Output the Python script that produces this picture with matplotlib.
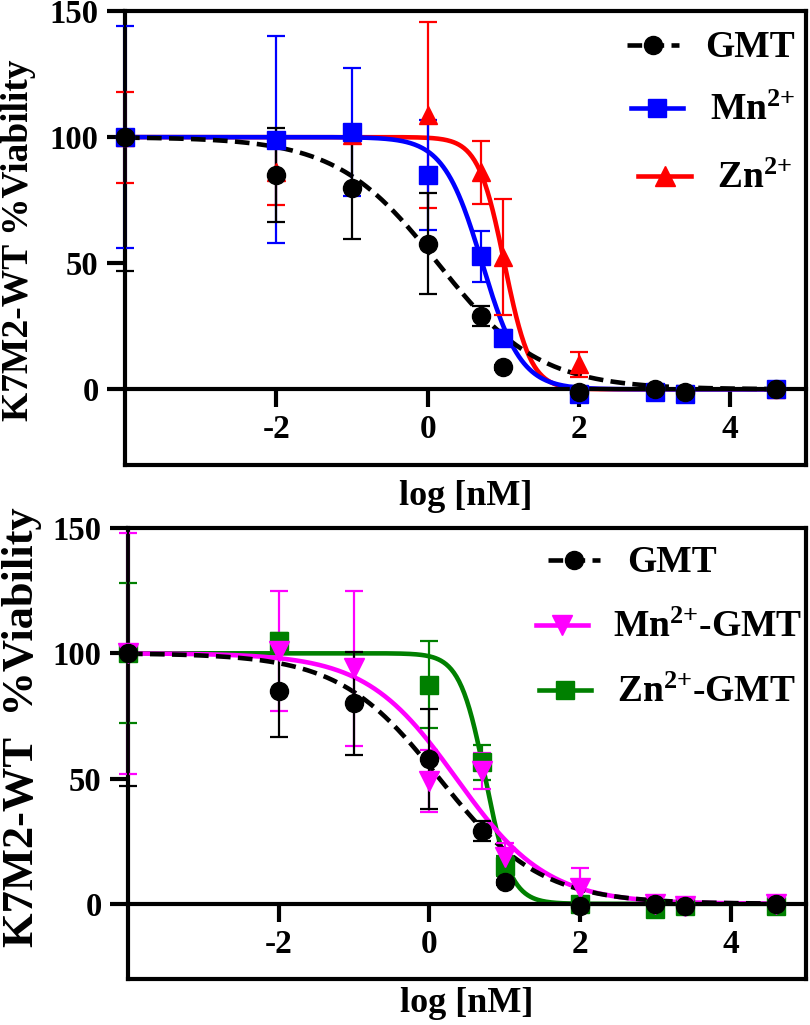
import numpy as np
import matplotlib
matplotlib.use("Agg")
import matplotlib.pyplot as plt
from matplotlib.transforms import Bbox, TransformedBbox

plt.rcParams['font.family'] = ['Liberation Serif', 'DejaVu Serif']
plt.rcParams['font.weight'] = 'bold'
plt.rcParams['axes.unicode_minus'] = False
plt.rcParams['mathtext.fontset'] = 'custom'
plt.rcParams['mathtext.rm'] = 'Liberation Serif:bold'
plt.rcParams['mathtext.bf'] = 'Liberation Serif:bold'
plt.rcParams['mathtext.it'] = 'Liberation Serif:bold:italic'
plt.rcParams['mathtext.default'] = 'bf'

# ---------------- data ----------------
log_conc = [-4, -2, -1, 0, 0.7, 1, 2, 3, 3.4, 4.6]

gmt_mean = [100, 85, 80, 57.7, 29, 8.7, -1, 0, -1, 0]
gmt_err = [53, 18.5, 20.5, 20, 4, 1, 1, 1, 1, 1]

mn_mean = [100, 99, 102, 85, 52.7, 20.5, -2, -1, -2, 0]
mn_err = [44, 41, 25.5, 21.7, 10, 3, 1, 1, 1, 1]

zn_mean = [100, 86, 101, 108.8, 86, 52.5, 10, 0, -1, 0]
zn_err = [18, 13, 2, 37, 12.5, 23, 5, 1, 1, 1]

mngmt_mean = [100, 101, 94, 49, 53, 18.6, 6.5, 0, -1, 0]
mngmt_err = [48, 24, 31, 12.4, 7, 5.8, 8, 1, 1, 1]

zngmt_mean = [100, 105, np.nan, 87.5, 56.5, 15.2, 0, -2, -1, -1]
zngmt_err = [28, 3, 0, 17.5, 7, 4, 1, 1, 1, 1]

# fitted 4PL parameters (logIC50, Hill slope), top=100, bottom=0
gmt_fit = (0.134, 0.65)
mn_fit = (0.72, 1.7)
zn_fit = (1.014, 2.51)
mngmt_fit = (0.36, 0.72)
zngmt_fit = (0.744, 2.57)

tick_x = [-2, 0, 2, 4]
tick_y = [0, 50, 100, 150]

W, H = 810, 1025


def fourpl(x, p):
    c, h = p
    return 100.0 / (1.0 + 10 ** ((x - c) * h))


fig = plt.figure(figsize=(W / 100, H / 100), dpi=100)
ax1 = fig.add_axes([125 / W, 1 - 465 / H, 681 / W, 454 / H])
ax2 = fig.add_axes([128 / W, 1 - 979 / H, 678 / W, 451 / H])

xf = np.linspace(-4, 4.6, 500)
dash = (0, (3.2, 1.6))
LW_AX = 3.0


def style(ax, ylabel, ylab_size, ylab_y, xlab_y):
    ax.set_xlim(-4, 5)
    ax.set_ylim(-30, 150)
    for s in ['left', 'right', 'top']:
        ax.spines[s].set_linewidth(LW_AX)
    ax.spines['bottom'].set_position(('data', 0))
    ax.spines['bottom'].set_linewidth(LW_AX)
    ax.plot([0, 1], [0, 0], transform=ax.transAxes, color='k', lw=LW_AX,
            clip_on=False, solid_capstyle='projecting', zorder=5)
    ax.set_xticks(tick_x)
    ax.set_yticks(tick_y)
    ax.tick_params(axis='y', direction='out', length=13, width=LW_AX,
                   labelsize=23.5, pad=6)
    ax.tick_params(axis='x', direction='out', length=13, width=LW_AX,
                   labelsize=24, pad=5)
    for lab in ax.get_xticklabels() + ax.get_yticklabels():
        lab.set_fontweight('bold')
    ax.set_xlabel('log [nM]', fontsize=26, fontweight='bold')
    ax.xaxis.label.set_va('center')
    ax.xaxis.set_label_coords(0.5, xlab_y)
    ax.set_ylabel(ylabel, fontsize=ylab_size, fontweight='bold')
    ax.yaxis.label.set_va('center')
    ax.yaxis.set_label_coords(-0.156, ylab_y)


def series(ax, mean, err, color, marker, ms, fit, ls='-', z=2):
    eb = ax.errorbar(log_conc, mean, yerr=err, fmt='none', ecolor=color,
                     elinewidth=1.6, capsize=6.5, capthick=1.6, zorder=z + 1)
    clip = TransformedBbox(Bbox([[-0.06, -0.2], [1.06, 1.0]]), ax.transAxes)
    for art in eb.lines[1] + eb.lines[2]:
        art.set_clip_box(clip)
    ax.plot(xf, fourpl(xf, fit), color=color, lw=3.3, ls=ls, zorder=z)
    ax.plot(log_conc, mean, ls='none', marker=marker, ms=ms, color=color,
            clip_on=False, zorder=z + 1.5)


def legend_entry(label, color, marker, ms, ls, x0, x1, y, tx):
    fx = lambda px: px / W
    fy = lambda py: 1 - py / H
    fig.add_artist(plt.Line2D([fx(x0), fx(x1)], [fy(y), fy(y)], color=color,
                              lw=3.3, ls=ls, transform=fig.transFigure))
    fig.add_artist(plt.Line2D([fx((x0 + x1) / 2)], [fy(y)], color=color,
                              marker=marker, ms=ms, ls='none',
                              transform=fig.transFigure))
    fig.text(fx(tx), fy(y + 12), label, fontsize=27, fontweight='bold',
             va='baseline', ha='left')


# ---------- top panel ----------
style(ax1, 'K7M2-WT %Viability', 27, 0.496, -0.07)
series(ax1, zn_mean, zn_err, '#ff0000', '^', 13, zn_fit, z=2)
series(ax1, mn_mean, mn_err, '#0000ff', 's', 13, mn_fit, z=2.2)
series(ax1, gmt_mean, gmt_err, 'black', 'o', 13, gmt_fit, ls=dash, z=2.4)

legend_entry('GMT', 'black', 'o', 13, dash, 627, 679, 45, 705)
legend_entry('Mn$^{2{+}}$', '#0000ff', 's', 13, '-', 631, 683, 108, 710)
legend_entry('Zn$^{2{+}}$', '#ff0000', '^', 14, '-', 638, 691, 176, 717)

# ---------- bottom panel ----------
style(ax2, 'K7M2-WT  %Viability', 32, 0.559, -0.055)
series(ax2, zngmt_mean, zngmt_err, '#008000', 's', 13, zngmt_fit, z=2)
series(ax2, mngmt_mean, mngmt_err, '#ff00ff', 'v', 14, mngmt_fit, z=2.2)
series(ax2, gmt_mean, gmt_err, 'black', 'o', 13, gmt_fit, ls=dash, z=2.4)

legend_entry('GMT', 'black', 'o', 13, dash, 548, 600, 560, 627)
legend_entry('Mn$^{2{+}}$-GMT', '#ff00ff', 'v', 14, '-', 536, 588, 625, 613)
legend_entry('Zn$^{2{+}}$-GMT', '#008000', 's', 13, '-', 539, 591, 690, 617)

fig.savefig('out.png', dpi=100)
